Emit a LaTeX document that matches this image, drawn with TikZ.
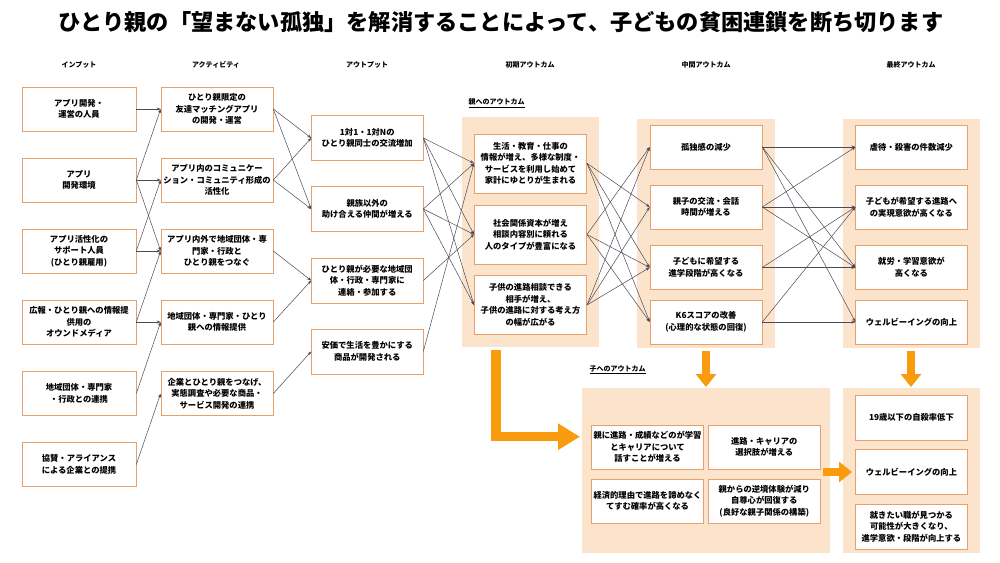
\documentclass[tikz,border=0pt]{standalone}
\usepackage{fontspec}
\setmainfont{Noto Sans CJK JP}
\usetikzlibrary{arrows.meta}
\definecolor{boxline}{HTML}{E8A06A}
\definecolor{peach}{HTML}{FCE4CC}
\definecolor{orng}{HTML}{F99B0C}
\definecolor{connc}{HTML}{4A4A58}
\begin{document}
\begin{tikzpicture}[x=1pt,y=-1pt,
  box/.style={draw=boxline,line width=0.6pt,fill=white,align=center,inner sep=1pt,
    font=\fontsize{8.3}{11.6}\selectfont\bfseries},
  inbox/.style={box,minimum width=114pt,minimum height=44pt},
  actbox/.style={box,minimum width=112pt,minimum height=44pt},
  outbox/.style={box,minimum width=111.5pt,minimum height=45pt},
  initbox/.style={box,minimum width=112.4pt,minimum height=59pt},
  midbox/.style={box,minimum width=112pt,minimum height=44pt},
  finbox/.style={box,minimum width=111.3pt,minimum height=44pt},
  kidbox/.style={box,minimum width=112pt,minimum height=44pt},
  kfinbox/.style={box,minimum width=112.7pt,minimum height=45pt},
  header/.style={font=\fontsize{7}{8}\selectfont\bfseries},
  sublabel/.style={font=\fontsize{7}{8}\selectfont\bfseries,anchor=west},
  panel/.style={fill=peach},
  link/.style={draw=connc,line width=0.5pt,-{Stealth[length=4pt,width=3pt]}},
  bigarrow/.style={draw=orng,line width=9.5pt,line join=miter,-{Triangle[length=22pt,width=25pt]}},
  smallarrow/.style={draw=orng,line width=7.5pt,-{Triangle[length=13pt,width=20pt]}}
]
\useasboundingbox (0,0) rectangle (1000,562);
\fill[white] (0,0) rectangle (1000,562);

% title
\node[font=\fontsize{22.2}{26}\selectfont\bfseries] (title) at (501,22) {ひとり親の「望まない孤独」を解消することによって、子どもの貧困連鎖を断ち切ります};

% headers
\node[header] (h1) at (79,65) {インプット};
\node[header] (h2) at (216,65) {アクティビティ};
\node[header] (h3) at (367,65) {アウトプット};
\node[header] (h4) at (530,65) {初期アウトカム};
\node[header] (h5) at (706,65) {中間アウトカム};
\node[header] (h6) at (911,65) {最終アウトカム};

% panels
\path[panel] (461.7,117) rectangle (599,347);
\path[panel] (637,119) rectangle (775,348);
\path[panel] (843,119) rectangle (980,348);
\path[panel] (582,388) rectangle (830,553);
\path[panel] (843,388) rectangle (980,553);

\node[sublabel] (lp) at (465,103) {\underline{親へのアウトカム}};
\node[sublabel] (lk) at (586,370) {\underline{子へのアウトカム}};

% inputs
\node[inbox] (i1) at (79,109) {アプリ開発・\\運営の人員};
\node[inbox] (i2) at (79,180) {アプリ\\開発環境};
\node[inbox] (i3) at (79,251) {アプリ活性化の\\サポート人員\\(ひとり親雇用)};
\node[inbox] (i4) at (79,322) {広報・ひとり親への情報提\\供用の\\オウンドメディア};
\node[inbox] (i5) at (79,393.5) {地域団体・専門家\\・行政との連携};
\node[inbox] (i6) at (79,464.5) {協賛・アライアンス\\による企業との提携};

% activities
\node[actbox] (a1) at (217,109) {ひとり親限定の\\友達マッチングアプリ\\の開発・運営};
\node[actbox] (a2) at (217,180) {アプリ内のコミュニケー\\ション・コミュニティ形成の\\活性化};
\node[actbox] (a3) at (217,251) {アプリ内外で地域団体・専\\門家・行政と\\ひとり親をつなぐ};
\node[actbox] (a4) at (217,322) {地域団体・専門家・ひとり\\親への情報提供};
\node[actbox] (a5) at (217,393.5) {企業とひとり親をつなげ、\\実態調査や必要な商品・\\サービス開発の連携};

% outputs
\node[outbox] (o1) at (367.25,138) {1対1・1対Nの\\ひとり親同士の交流増加};
\node[outbox] (o2) at (367.25,209) {親族以外の\\助け合える仲間が増える};
\node[outbox] (o3) at (367.25,280.5) {ひとり親が必要な地域団\\体・行政・専門家に\\連絡・参加する};
\node[outbox] (o4) at (367.25,351.5) {安価で生活を豊かにする\\商品が開発される};

% initial outcomes
\node[initbox] (n1) at (530.5,163.3) {生活・教育・仕事の\\情報が増え、多様な制度・\\サービスを利用し始めて\\家計にゆとりが生まれる};
\node[initbox] (n2) at (530.5,234.5) {社会関係資本が増え\\相談内容別に頼れる\\人のタイプが豊富になる};
\node[initbox] (n3) at (530.5,305) {子供の進路相談できる\\相手が増え、\\子供の進路に対する考え方\\の幅が広がる};

% intermediate
\node[midbox] (m1) at (706,147) {孤独感の減少};
\node[midbox] (m2) at (706,207) {親子の交流・会話\\時間が増える};
\node[midbox] (m3) at (706,267.5) {子どもに希望する\\進学段階が高くなる};
\node[midbox] (m4) at (706,322) {K6スコアの改善\\(心理的な状態の回復)};

% final
\node[finbox] (f1) at (911.4,147) {虐待・殺害の件数減少};
\node[finbox] (f2) at (911.4,207) {子どもが希望する進路へ\\の実現意欲が高くなる};
\node[finbox] (f3) at (911.4,267.5) {就労・学習意欲が\\高くなる};
\node[finbox] (f4) at (911.4,322) {ウェルビーイングの向上};

% child outcomes
\node[kidbox] (k1) at (647.5,447) {親に進路・成績などのが学習\\とキャリアについて\\話すことが増える};
\node[kidbox] (k2) at (764.3,447) {進路・キャリアの\\選択肢が増える};
\node[kidbox] (k3) at (647.5,501) {経済的理由で進路を諦めなく\\てすむ確率が高くなる};
\node[kidbox] (k4) at (764.3,501) {親からの逆境体験が減り\\自尊心が回復する\\(良好な親子関係の構築)};

% child final
\node[kfinbox] (g1) at (911.4,417.5) {19歳以下の自殺率低下};
\node[kfinbox] (g2) at (911.4,472) {ウェルビーイングの向上};
\node[kfinbox] (g3) at (911.4,526.5) {就きたい職が見つかる\\可能性が大きくなり、\\進学意欲・段階が向上する};

% inputs -> activities
\draw[link] (i1.east) -- (a1.west);
\draw[link] (i2.east) -- (a1.west);
\draw[link] (i2.east) -- (a2.west);
\draw[link] (i2.east) -- (a3.west);
\draw[link] (i3.east) -- (a2.west);
\draw[link] (i3.east) -- (a3.west);
\draw[link] (i4.east) -- (a3.west);
\draw[link] (i4.east) -- (a4.west);
\draw[link] (i5.east) -- (a4.west);
\draw[link] (i6.east) -- (a5.west);

% activities -> outputs
\draw[link] (a1.east) -- (o1.west);
\draw[link] (a1.east) -- (o2.west);
\draw[link] (a2.east) -- (o1.west);
\draw[link] (a2.east) -- (o2.west);
\draw[link] (a3.east) -- (o3.west);
\draw[link] (a4.east) -- (o3.west);
\draw[link] (a5.east) -- (o4.west);

% outputs -> initial
\draw[link] (o1.east) -- (n1.west);
\draw[link] (o1.east) -- (n2.west);
\draw[link] (o1.east) -- (n3.west);
\draw[link] (o2.east) -- (n1.west);
\draw[link] (o2.east) -- (n2.west);
\draw[link] (o2.east) -- (n3.west);
\draw[link] (o3.east) -- (n2.west);
\draw[link] (o4.east) -- (n1.west);

% initial -> intermediate
\draw[link] (n1.east) -- (m2.west);
\draw[link] (n1.east) -- (m3.west);
\draw[link] (n1.east) -- (m4.west);
\draw[link] (n2.east) -- (m1.west);
\draw[link] (n2.east) -- (m3.west);
\draw[link] (n2.east) -- (m4.west);
\draw[link] (n3.east) -- (m1.west);
\draw[link] (n3.east) -- (m2.west);
\draw[link] (n3.east) -- (m3.west);

% intermediate -> final
\draw[link] (m1.east) -- (f1.west);
\draw[link] (m1.east) -- (f3.west);
\draw[link] (m1.east) -- (f4.west);
\draw[link] (m2.east) -- (f1.west);
\draw[link] (m2.east) -- (f2.west);
\draw[link] (m2.east) -- (f3.west);
\draw[link] (m3.east) -- (f2.west);
\draw[link] (m3.east) -- (f3.west);
\draw[link] (m4.east) -- (f2.west);
\draw[link] (m4.east) -- (f4.west);

% orange arrows
\coordinate (pa) at (496,350);
\coordinate (pb) at (496,436.7);
\coordinate (pc) at (580,436.7);
\draw[bigarrow] (pa) -- (pb) -- (pc);
\coordinate (da1) at (706,351);
\coordinate (da2) at (706,387);
\draw[smallarrow] (da1) -- (da2);
\coordinate (db1) at (911,351);
\coordinate (db2) at (911,387);
\draw[smallarrow] (db1) -- (db2);
\coordinate (ra1) at (823,472);
\coordinate (ra2) at (852,472);
\draw[smallarrow] (ra1) -- (ra2);
\end{tikzpicture}
\end{document}
